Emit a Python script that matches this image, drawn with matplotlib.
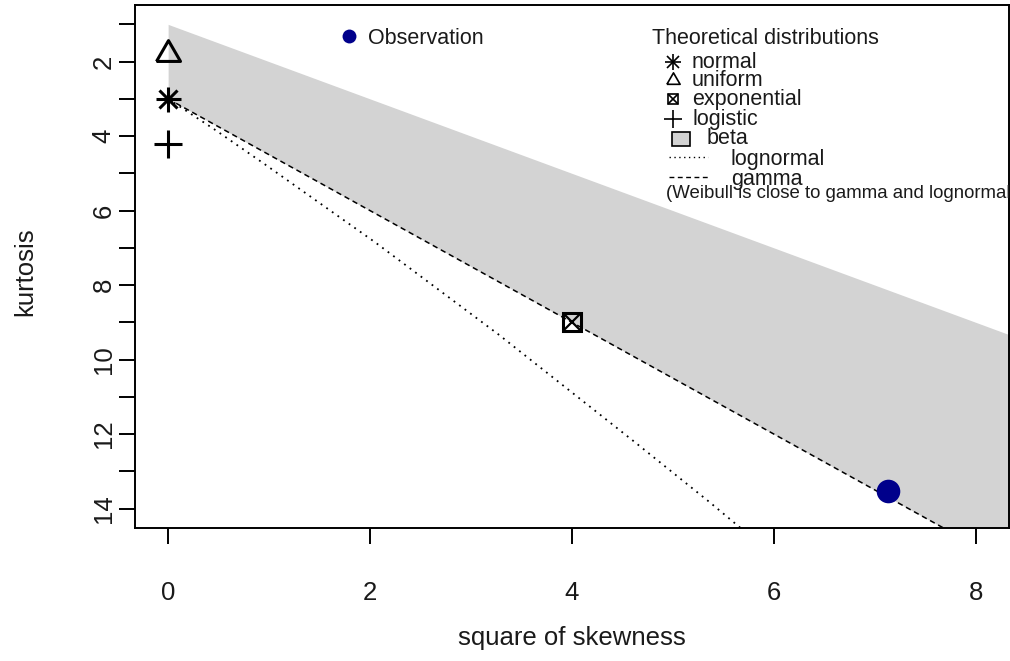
import matplotlib
matplotlib.use("Agg")
import matplotlib.pyplot as plt
from matplotlib.lines import Line2D
from matplotlib.patches import Rectangle

plt.rcParams['font.family'] = ['Liberation Sans', 'DejaVu Sans']

# observed sample (square of skewness, kurtosis)
obs_skew2 = [7.13]
obs_kurt = [13.52]

# theoretical distributions with a single point
normal_pt = (0.0, 3.0)
uniform_pt = (0.0, 1.8)
exponential_pt = (4.0, 9.0)
logistic_pt = (0.0, 4.2)

# gamma line and lognormal curve
gamma_skew2 = [0.0, 8.6]
gamma_kurt = [3.0, 15.9]
lognorm_skew2 = [0.0, 0.47, 0.96, 2.05, 3.27, 4.62, 5.36, 6.13]
lognorm_kurt = [3.0, 3.84, 4.76, 6.85, 9.32, 12.21, 13.82, 15.56]

# beta area: between the lower limit and the gamma line
beta_skew2 = [0.0, 8.6]
beta_top_kurt = [1.0, 9.6]
beta_bottom_kurt = [3.0, 15.9]

xticks = [0, 2, 4, 6, 8]
yticks = list(range(1, 15))
ylabels = [str(k) if k % 2 == 0 else "" for k in yticks]

W, H = 1010, 661
TXT = '#1a1a1a'
BETA_GREY = '#d3d3d3'
NAVY = '#00008b'


def fxy(x, y):
    """pixel position -> figure fraction"""
    return x / W, 1 - y / H


fig = plt.figure(figsize=(W / 100, H / 100), dpi=100)
ax = fig.add_axes([135 / W, 133 / H, 874 / W, 523 / H])
ax.set_xlim(-0.328, 8.328)
ax.set_ylim(14.52, 0.48)

ax.fill_between(beta_skew2, beta_top_kurt, beta_bottom_kurt,
                color=BETA_GREY, lw=0, zorder=1)
ax.plot(gamma_skew2, gamma_kurt, color='black', lw=1.1,
        dashes=(3.5, 2.5), zorder=2)
ax.plot(lognorm_skew2, lognorm_kurt, color='black', lw=1.3,
        dashes=(1.0, 2.8), zorder=2)

# point markers (R pch 8, 2, 7, 3)
tri = [(-1, -0.577), (1, -0.577), (0, 1.155), (-1, -0.577)]
mk = dict(color='black', mfc='none', mew=2.2, ls='none', zorder=3)
ax.plot(*normal_pt, marker='+', ms=18, **mk)
ax.plot(*normal_pt, marker='x', ms=13, **mk)
ax.plot(*uniform_pt, marker=tri, ms=20, **mk)
ax.plot(*logistic_pt, marker='+', ms=19.5, **mk)
ax.plot(*exponential_pt, marker='s', ms=13, **mk)
ax.plot(*exponential_pt, marker='x', ms=13, color='black', mew=1.6,
        ls='none', zorder=3)

ax.plot(obs_skew2, obs_kurt, 'o', color=NAVY, ms=17, mew=0, zorder=4)

# axes, R style
for s in ax.spines.values():
    s.set_linewidth(1.4)
ax.set_xticks(xticks)
ax.set_yticks(yticks)
ax.set_yticklabels(ylabels, rotation=90, va='center', ha='center')
ax.tick_params(axis='both', length=11.5, width=1.4, labelsize=18.5,
               labelcolor=TXT)
ax.tick_params(axis='x', pad=27)
ax.tick_params(axis='y', pad=11)

ax.text(0.5, -0.21, 'square of skewness', transform=ax.transAxes,
        ha='center', va='center', fontsize=18.5, color=TXT)
ax.text(-0.126, 0.49, 'kurtosis', transform=ax.transAxes, rotation=90,
        ha='center', va='center', fontsize=18.5, color=TXT)

# legend: observation
fs = 15.5
fig.add_artist(Line2D(*zip(fxy(349, 36)), marker='o', color=NAVY, ms=10,
                      mew=0, transform=fig.transFigure))
fig.text(*fxy(368, 38), 'Observation', fontsize=fs, color=TXT,
         ha='left', va='center')

# legend: theoretical distributions
fig.text(*fxy(652, 38), 'Theoretical distributions', fontsize=fs,
         color=TXT, ha='left', va='center')
leg = [
    (62, [('+', 11), ('x', 8)], 'normal'),
    (80, [(tri, 11)], 'uniform'),
    (99, [('s', 7), ('x', 7)], 'exponential'),
    (119, [('+', 13)], 'logistic'),
]
for y, marks, name in leg:
    for m, size in marks:
        fig.add_artist(Line2D(*zip(fxy(673, y)), marker=m, ms=size,
                              color='black', mfc='none', mew=1.2,
                              transform=fig.transFigure))
    fig.text(*fxy(692, y + 1), name, fontsize=fs, color=TXT,
             ha='left', va='center')

bx, by = fxy(672, 146)
fig.add_artist(Rectangle((bx, by), 18 / W, 14 / H, facecolor=BETA_GREY,
                         edgecolor='black', lw=1.2,
                         transform=fig.transFigure))
fig.text(*fxy(707, 139), 'beta', fontsize=fs, color=TXT,
         ha='left', va='center')

for y, dash, name in [(157, (1.0, 2.5), 'lognormal'),
                      (177, (3.5, 2.5), 'gamma')]:
    (x0, yy), (x1, _) = fxy(669, y), fxy(708, y)
    fig.add_artist(Line2D([x0, x1], [yy, yy], color='black', lw=1.0,
                          dashes=dash, transform=fig.transFigure))
    fig.text(*fxy(731, y + 2), name, fontsize=fs, color=TXT,
             ha='left', va='center')

fig.text(*fxy(666, 194), '(Weibull is close to gamma and lognormal)',
         fontsize=13.4, color=TXT, ha='left', va='center')

fig.savefig('out.png', dpi=100)
